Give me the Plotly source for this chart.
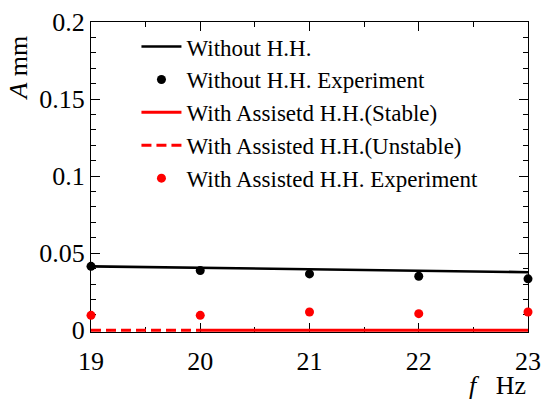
import plotly.graph_objects as go

freq = [19, 20, 21, 22, 23]
theory_without = [0.0415, 0.0405, 0.0396, 0.0387, 0.0377]
exp_without = [0.0415, 0.0388, 0.0366, 0.0351, 0.0334]
stable_x = [20, 21, 22, 23]
stable_y = [0, 0, 0, 0]
unstable_x = [19, 20]
unstable_y = [0, 0]
exp_with = [0.0097, 0.0097, 0.0119, 0.0108, 0.0119]
y_tickvals = [0, 0.05, 0.1, 0.15, 0.2]
y_ticktext = ["0", "0.05", "0.1", "0.15", "0.2"]
x_tickvals = [19, 20, 21, 22, 23]
x_ticktext = ["19", "20", "21", "22", "23"]

FONT = "Liberation Serif"
fig = go.Figure()
fig.add_trace(go.Scatter(x=freq, y=theory_without, mode="lines", name="Without H.H.",
                         line=dict(color="black", width=2.6), cliponaxis=False))
fig.add_trace(go.Scatter(x=freq, y=exp_without, mode="markers", name="Without H.H. Experiment",
                         marker=dict(color="black", size=9), cliponaxis=False))
fig.add_trace(go.Scatter(x=stable_x, y=stable_y, mode="lines", name="With Assisetd H.H.(Stable)",
                         line=dict(color="red", width=3), cliponaxis=False))
fig.add_trace(go.Scatter(x=unstable_x, y=unstable_y, mode="lines", name="With Assisted H.H.(Unstable)",
                         line=dict(color="red", width=3, dash="10px,5px"), cliponaxis=False))
fig.add_trace(go.Scatter(x=freq, y=exp_with, mode="markers", name="With Assisted H.H. Experiment",
                         marker=dict(color="red", size=9), cliponaxis=False))

axis_common = dict(showgrid=False, zeroline=False, showline=True, linecolor="black", linewidth=1,
                   mirror="ticks", ticks="inside", ticklen=9, tickwidth=1, tickcolor="black",
                   tickfont=dict(family=FONT, size=26, color="black"), layer="below traces",
                   automargin=False)
fig.update_xaxes(range=[19, 23], tickmode="array", tickvals=x_tickvals, ticktext=x_ticktext,
                 ticklabelstandoff=6,
                 minor=dict(dtick=0.5, tick0=19, ticks="inside", ticklen=5, tickcolor="black", showgrid=False),
                 **axis_common)
fig.update_yaxes(range=[-0.0011, 0.2], tickmode="array", tickvals=y_tickvals, ticktext=y_ticktext,
                 minor=dict(dtick=0.01, tick0=0, ticks="inside", ticklen=5, tickcolor="black", showgrid=False),
                 **axis_common)

fig.update_layout(
    width=542, height=400,
    margin=dict(l=91, r=14, t=22, b=68),
    paper_bgcolor="white", plot_bgcolor="white",
    font=dict(family=FONT, size=26, color="black"),
    showlegend=True,
    legend=dict(x=0.104, y=0.99, xanchor="left", yanchor="top", bgcolor="rgba(0,0,0,0)",
                font=dict(family=FONT, size=23, color="black"), itemwidth=40),
    annotations=[
        dict(text="<i>A</i> mm", xref="paper", yref="paper", x=-0.167, y=0.85,
             xanchor="center", yanchor="middle", textangle=-90, showarrow=False,
             font=dict(family=FONT, size=26, color="black")),
        dict(text="<i>f</i>   Hz", xref="paper", yref="paper", x=1.0, y=-0.225,
             xanchor="right", yanchor="bottom", showarrow=False,
             font=dict(family=FONT, size=26, color="black")),
    ],
)
fig.write_html("out.html")
